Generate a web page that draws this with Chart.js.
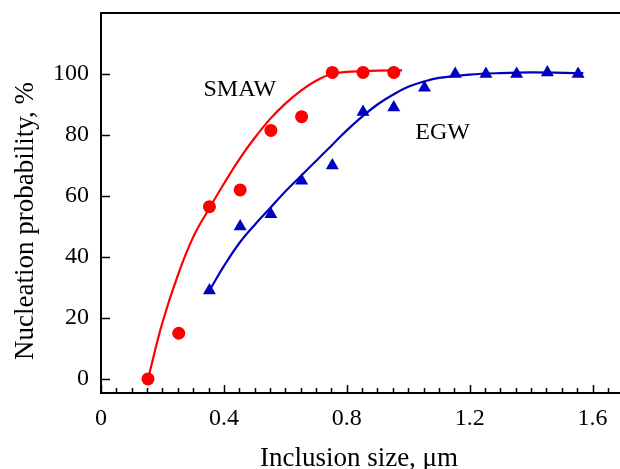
<!DOCTYPE html>
<html>
<head>
<meta charset="utf-8">
<script src="https://cdn.jsdelivr.net/npm/chart.js@4.4.1/dist/chart.umd.min.js"></script>
<style>
    body { margin: 0; background: #fff; }
    #wrap { width: 620px; height: 469px; }
</style>
</head>
<body>
<div id="wrap"><canvas id="chart" width="620" height="469"></canvas></div>
<script>
// measured points
const smawX = [0.153, 0.253, 0.353, 0.453, 0.553, 0.653, 0.753, 0.853, 0.953];
const smawY = [0, 15, 56.5, 62, 81.5, 86, 100.5, 100.5, 100.5];
const egwX = [0.353, 0.453, 0.553, 0.653, 0.753, 0.853, 0.953, 1.053, 1.153, 1.253, 1.353, 1.453, 1.553];
const egwY = [29, 50, 54, 65, 70, 87.5, 89, 95.5, 100, 100, 100, 100.5, 100];

// fitted curves
const smawFitX = [0.153, 0.2, 0.25, 0.3, 0.35, 0.4, 0.45, 0.5, 0.55, 0.6, 0.65, 0.7, 0.75, 0.8, 0.9, 0.98];
const smawFitY = [0, 18.5, 34, 46.5, 55.5, 64, 72, 79, 85.2, 90.3, 94.5, 97.8, 100, 100.7, 101.1, 101.2];
const egwFitX = [0.353, 0.4, 0.45, 0.5, 0.55, 0.6, 0.65, 0.7, 0.75, 0.8, 0.85, 0.9, 0.95, 1.0, 1.05, 1.1, 1.2, 1.3, 1.4, 1.57];
const egwFitY = [29, 37, 44.5, 50.5, 56, 61.5, 66.5, 71.5, 76.5, 81.5, 86, 90, 93.2, 95.8, 97.5, 98.7, 99.8, 100.3, 100.5, 100.3];

const xTicks = [0, 0.4, 0.8, 1.2, 1.6];
const yTicks = [0, 20, 40, 60, 80, 100];

const labels = [
    { text: 'SMAW', x: 0.452, y: 94.8 },
    { text: 'EGW', x: 1.112, y: 80.7 }
];

const RED = '#ff0000';
const BLUE = '#0000c0';
const SERIF = '"Liberation Serif", "Times New Roman", serif';

function pts(xs, ys) {
    return xs.map((x, i) => ({ x: x, y: ys[i] }));
}

// spines, inward ticks, axis titles and the in-plot labels
const framePlugin = {
    id: 'frame',
    afterDraw(chart) {
        const c = chart.ctx;
        const a = chart.chartArea;
        const xs = chart.scales.x;
        const ys = chart.scales.y;
        c.save();
        c.strokeStyle = '#000';
        c.lineWidth = 2;
        c.beginPath();
        c.moveTo(chart.width, a.top);
        c.lineTo(a.left, a.top);
        c.lineTo(a.left, a.bottom);
        c.lineTo(chart.width, a.bottom);
        c.stroke();

        c.lineWidth = 1.5;
        c.beginPath();
        for (let v = 0; v <= 1.7; v += 0.05) {
            const px = Math.round(xs.getPixelForValue(v)) + 0.5;
            if (px > chart.width) break;
            const major = Math.abs(v / 0.4 - Math.round(v / 0.4)) < 1e-6;
            c.moveTo(px, a.bottom);
            c.lineTo(px, a.bottom - (major ? 8 : 5));
        }
        yTicks.forEach(v => {
            const py = Math.round(ys.getPixelForValue(v)) + 0.5;
            c.moveTo(a.left, py);
            c.lineTo(a.left + 9, py);
        });
        c.stroke();

        c.fillStyle = '#000';
        c.font = '24px ' + SERIF;
        c.textAlign = 'center';
        c.textBaseline = 'middle';
        labels.forEach(l => {
            c.fillText(l.text, xs.getPixelForValue(l.x), ys.getPixelForValue(l.y));
        });

        c.font = '27px ' + SERIF;
        c.textBaseline = 'alphabetic';
        c.fillText('Inclusion size, \u03bcm', 359, 466);
        c.translate(33, 221);
        c.rotate(-Math.PI / 2);
        c.fillText('Nucleation probability, %', 0, 0);
        c.restore();
    }
};

new Chart(document.getElementById('chart').getContext('2d'), {
    type: 'scatter',
    data: {
        datasets: [
            {
                label: 'SMAW fit',
                data: pts(smawFitX, smawFitY),
                showLine: true,
                borderColor: RED,
                borderWidth: 2.2,
                pointRadius: 0,
                tension: 0.4
            },
            {
                label: 'EGW fit',
                data: pts(egwFitX, egwFitY),
                showLine: true,
                borderColor: BLUE,
                borderWidth: 2.2,
                pointRadius: 0,
                tension: 0.4
            },
            {
                label: 'SMAW',
                data: pts(smawX, smawY),
                pointStyle: 'circle',
                pointRadius: 6.5,
                backgroundColor: RED,
                borderColor: RED,
                borderWidth: 0
            },
            {
                label: 'EGW',
                data: pts(egwX, egwY),
                pointStyle: 'triangle',
                pointRadius: 7.5,
                backgroundColor: BLUE,
                borderColor: BLUE,
                borderWidth: 0
            }
        ]
    },
    options: {
        responsive: false,
        animation: false,
        layout: { padding: { top: 13, right: 0, left: 0, bottom: 0 } },
        plugins: {
            legend: { display: false },
            tooltip: { enabled: false }
        },
        scales: {
            x: {
                type: 'linear',
                min: 0,
                max: 1.665,
                grid: { display: false, drawTicks: false },
                border: { display: false },
                afterBuildTicks: s => { s.ticks = xTicks.map(v => ({ value: v })); },
                afterFit: s => { s.height = 76; s.paddingLeft = 0; s.paddingRight = 0; },
                ticks: {
                    color: '#000',
                    padding: 11,
                    maxRotation: 0,
                    font: { family: SERIF, size: 24 },
                    callback: v => v === 0 ? '0' : v.toFixed(1)
                }
            },
            y: {
                type: 'linear',
                min: -4.6,
                max: 120,
                grid: { display: false, drawTicks: false },
                border: { display: false },
                afterBuildTicks: s => { s.ticks = yTicks.map(v => ({ value: v })); },
                afterFit: s => { s.width = 101; s.paddingTop = 0; s.paddingBottom = 0; },
                ticks: {
                    color: '#000',
                    padding: 12,
                    font: { family: SERIF, size: 24 }
                }
            }
        }
    },
    plugins: [framePlugin]
});
</script>
</body>
</html>
